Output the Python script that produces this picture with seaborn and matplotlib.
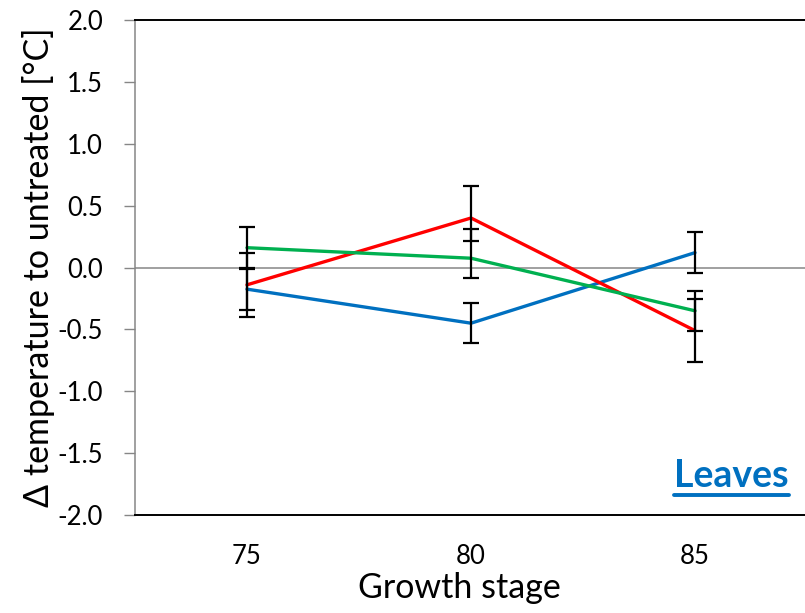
import matplotlib
matplotlib.use("Agg")
import matplotlib.pyplot as plt
from matplotlib.lines import Line2D
import seaborn as sns
import pandas as pd

# Growth stages and mean temperature differences to untreated plants
stages = ["75", "80", "85"]
blue_vals = [-0.175, -0.45, 0.12]
red_vals = [-0.14, 0.40, -0.51]
green_vals = [0.16, 0.075, -0.35]

# Lower / upper error bar extents
blue_err_lo = [0.165, 0.162, 0.165]
blue_err_hi = [0.165, 0.162, 0.165]
red_err_lo = [0.26, 0.185, 0.255]
red_err_hi = [0.26, 0.255, 0.255]
green_err_lo = [0.165, 0.16, 0.16]
green_err_hi = [0.165, 0.235, 0.16]

y_ticks = [-2.0, -1.5, -1.0, -0.5, 0.0, 0.5, 1.0, 1.5, 2.0]

series = {
    "blue": (blue_vals, blue_err_lo, blue_err_hi, "#0070C0"),
    "red": (red_vals, red_err_lo, red_err_hi, "#FF0000"),
    "green": (green_vals, green_err_lo, green_err_hi, "#00B050"),
}

sns.set_style("white")
plt.rcParams["font.family"] = ["Lato", "DejaVu Sans"]
plt.rcParams["text.color"] = "black"
plt.rcParams["axes.labelcolor"] = "black"

fig = plt.figure(figsize=(8.05, 6.13), dpi=100)
ax = fig.add_axes([135 / 805, 98 / 613, 672 / 805, 495 / 613])

rows = []
for name, (vals, lo, hi, col) in series.items():
    for s, v in zip(stages, vals):
        rows.append({"stage": s, "value": v, "series": name})
df = pd.DataFrame(rows)

palette = {k: v[3] for k, v in series.items()}
sns.lineplot(data=df, x="stage", y="value", hue="series", palette=palette,
             linewidth=2.4, legend=False, ax=ax, sort=False, zorder=3)

for name, (vals, lo, hi, col) in series.items():
    ax.errorbar(stages, vals, yerr=[lo, hi], fmt="none", ecolor="black",
                elinewidth=1.6, capsize=5.5, capthick=1.6, zorder=4)

ax.axhline(0, color="#868686", linewidth=1.1, zorder=2)

ax.set_xlim(-0.5, 2.5)
ax.set_ylim(-2.0, 2.0)
ax.set_yticks(y_ticks)
ax.set_yticklabels([f"{t:.1f}" for t in y_ticks])

for side in ["top", "bottom"]:
    ax.spines[side].set_color("black")
    ax.spines[side].set_linewidth(1.4)
ax.spines["right"].set_visible(False)
ax.spines["left"].set_color("#868686")
ax.spines["left"].set_linewidth(1.1)

ax.tick_params(axis="y", direction="out", length=8, width=1.0, color="#868686",
               labelcolor="black", labelsize=18.5, pad=15, left=True)
ax.tick_params(axis="x", length=0, labelcolor="black", labelsize=18.5, pad=21)

ax.set_xlabel("Growth stage", fontsize=24.5)
ax.xaxis.set_label_coords(0.482, -0.115)
ax.set_ylabel("Δ temperature to untreated [°C]", fontsize=24.5, labelpad=2)

leaves = ax.text(0.973, 0.057, "Leaves", transform=ax.transAxes, ha="right",
                 va="baseline", fontsize=27, fontweight="bold", color="#0070C0")

fig.canvas.draw()
bb = leaves.get_window_extent().transformed(fig.transFigure.inverted())
uy = (613 - 494.5) / 613
fig.add_artist(Line2D([bb.x0, bb.x1], [uy, uy], transform=fig.transFigure,
                      color="#0070C0", linewidth=2.8))

fig.savefig("out.png", dpi=100)
